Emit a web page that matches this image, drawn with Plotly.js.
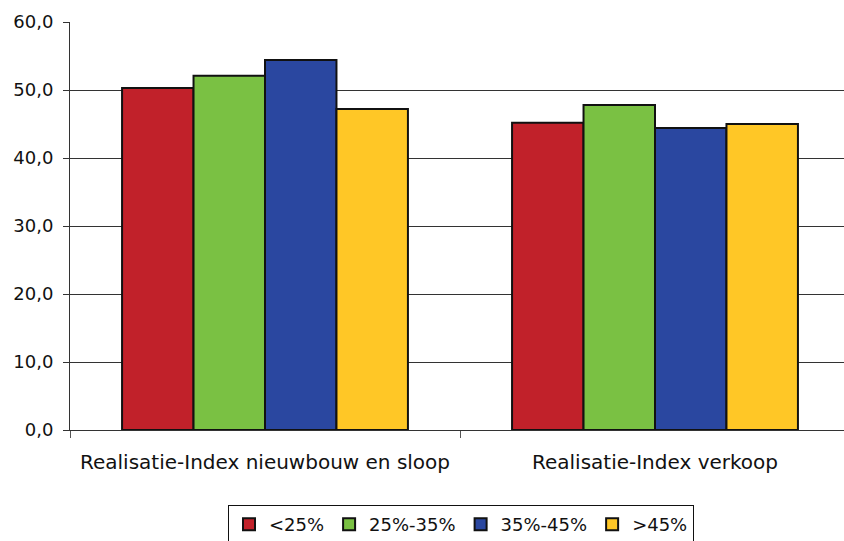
<!DOCTYPE html>
<html>
<head>
<meta charset="utf-8">
<script src="https://cdn.plot.ly/plotly-3.0.1.min.js"></script>
<style>
  html, body { margin: 0; padding: 0; background: #fff; overflow: hidden; }
  #chart { width: 860px; height: 541px; }
</style>
</head>
<body>
<div id="chart"></div>
<script>
// Realisatie-index per groep
const categories = ['Realisatie-Index nieuwbouw en sloop', 'Realisatie-Index verkoop'];
const seriesNames = ['<25%', '25%-35%', '35%-45%', '>45%'];
const valuesLt25 = [50.3, 45.2];
const values25to35 = [52.1, 47.8];
const values35to45 = [54.4, 44.4];
const valuesGt45 = [47.2, 45.0];
const yTicks = [0, 10, 20, 30, 40, 50, 60];

const seriesValues = [valuesLt25, values25to35, values35to45, valuesGt45];
const colors = ['#C1212A', '#7AC143', '#2A47A0', '#FFC726'];

const traces = seriesNames.map((name, i) => ({
  type: 'bar',
  name: name,
  x: categories,
  y: seriesValues[i],
  marker: { color: colors[i], line: { color: '#111', width: 2 } },
  hoverinfo: 'x+y+name'
}));

const layout = {
  width: 860,
  height: 541,
  margin: { l: 70, r: 10, t: 22, b: 111 },
  paper_bgcolor: '#fff',
  plot_bgcolor: '#fff',
  separators: ',.',
  font: { family: 'DejaVu Sans, sans-serif', color: '#111', size: 17 },
  barmode: 'group',
  bargap: 0.267,
  bargroupgap: 0,
  showlegend: true,
  legend: {
    orientation: 'h',
    x: 461 / 860, xref: 'container', xanchor: 'center',
    y: 36 / 541, yref: 'container', yanchor: 'top',
    bordercolor: '#111', borderwidth: 1,
    font: { size: 18, color: '#111' },
    itemwidth: 30,
    traceorder: 'normal'
  },
  xaxis: {
    type: 'category',
    tickson: 'boundaries',
    ticks: 'outside', ticklen: 7, tickcolor: '#555', tickwidth: 1,
    ticklabelstandoff: 14,
    showline: true, linecolor: '#333', linewidth: 1,
    showgrid: false,
    tickfont: { size: 20, color: '#111' },
    fixedrange: true
  },
  yaxis: {
    range: [0, 60],
    tickvals: yTicks,
    tickformat: '.1f',
    ticks: 'outside', ticklen: 6, tickcolor: '#333', tickwidth: 1,
    ticklabelstandoff: 6,
    showline: true, linecolor: '#333', linewidth: 1,
    showgrid: true, gridcolor: '#333', gridwidth: 1,
    zeroline: false,
    tickfont: { size: 18, color: '#111' },
    fixedrange: true
  }
};

Plotly.newPlot('chart', traces, layout, { displayModeBar: false, staticPlot: true });
</script>
</body>
</html>
